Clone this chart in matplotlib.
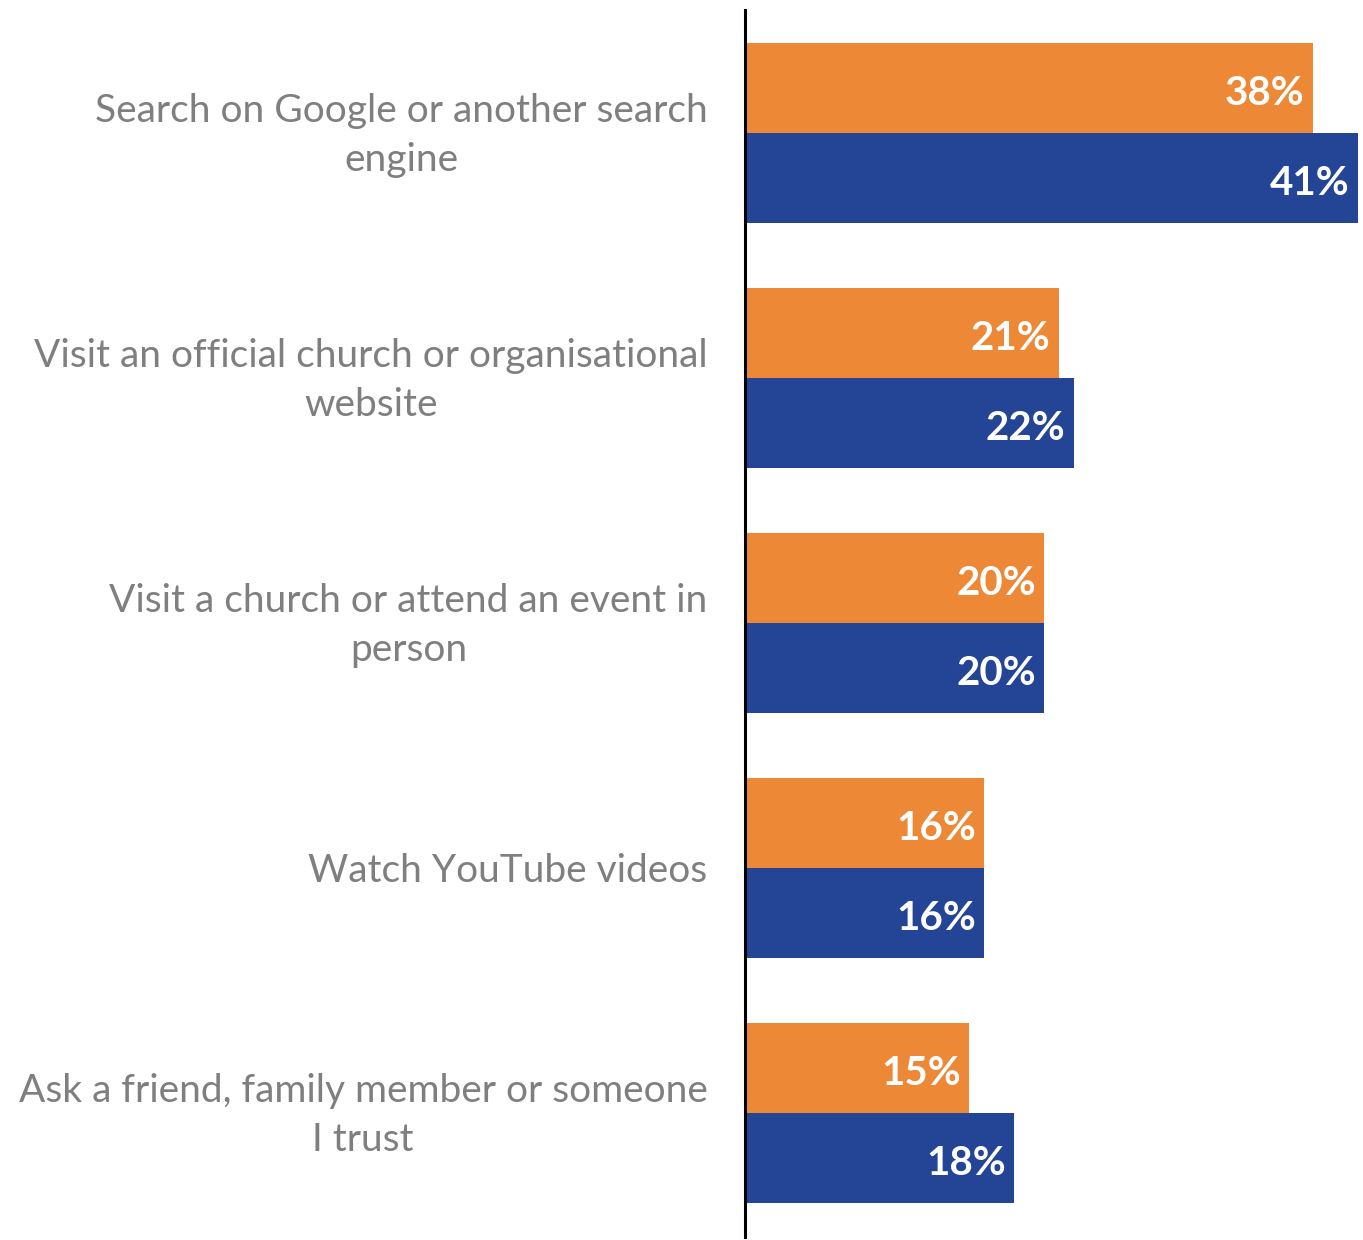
import matplotlib.pyplot as plt
import numpy as np

# data
categories = [
    "Search on Google or another search\nengine",
    "Visit an official church or organisational\nwebsite",
    "Visit a church or attend an event in\nperson",
    "Watch YouTube videos",
    "Ask a friend, family member or someone\nI trust",
]
orange_vals = [38, 21, 20, 16, 15]
blue_vals = [41, 22, 20, 16, 18]

ORANGE = "#ED8936"
BLUE = "#244496"
GREY = "#7F7F7F"

fig = plt.figure(figsize=(13.63, 12.40), dpi=100)
ax = fig.add_axes([745 / 1363, 3 / 1240, 1 - 745 / 1363, (1237 - 10) / 1240])

y = np.arange(len(categories))
h = 90 / 245

ax.barh(y - h / 2, orange_vals, height=h, color=ORANGE)
ax.barh(y + h / 2, blue_vals, height=h, color=BLUE)

for yi, (o, b) in enumerate(zip(orange_vals, blue_vals)):
    for val, yy in [(o, yi - h / 2), (b, yi + h / 2)]:
        ax.annotate(f"{val}%", xy=(val, yy), xytext=(-6, -4),
                    textcoords="offset points", ha="right", va="center",
                    color="white", fontsize=29, fontweight="bold",
                    family="Lato")

for yi, label in enumerate(categories):
    ax.annotate(label, xy=(0, yi), xytext=(-27, -2),
                textcoords="offset points", ha="right", va="center",
                multialignment="center", color=GREY, fontsize=28,
                family="Lato", linespacing=1.45)

ax.set_xlim(0, (1363 - 745) / 14.95)
ax.set_ylim(4.506, -0.502)
ax.set_xticks([])
ax.set_yticks([])
for side in ["top", "right", "bottom"]:
    ax.spines[side].set_visible(False)
ax.spines["left"].set_linewidth(2.2)
ax.spines["left"].set_color("black")

fig.savefig("out.png", dpi=100)
